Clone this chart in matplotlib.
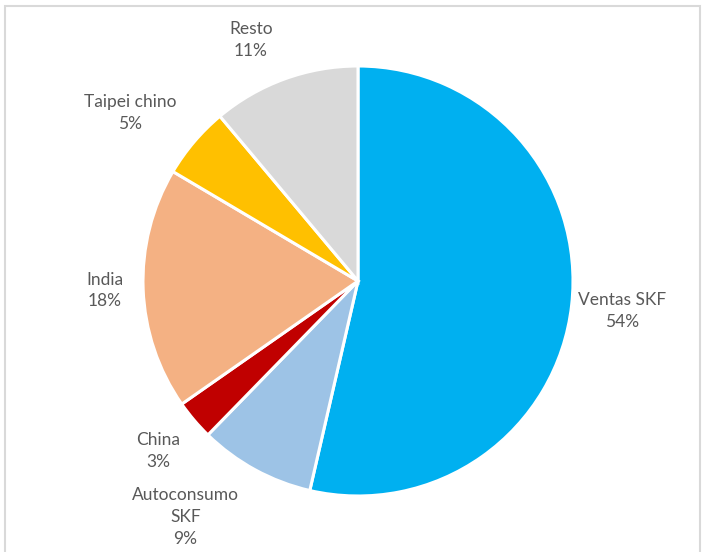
import numpy as np
import matplotlib
matplotlib.use("Agg")
import matplotlib.pyplot as plt
from matplotlib.patches import Rectangle

labels = ["Ventas SKF", "Autoconsumo\nSKF", "China", "India", "Taipei chino", "Resto"]
values = [53.6, 8.7, 3.0, 18.2, 5.4, 11.1]
colors = ["#00B0F0", "#9DC3E6", "#C00000", "#F4B183", "#FFC000", "#D9D9D9"]

# per-label distance from centre (fraction of radius), like Excel's best fit
label_dist = [1.237, 1.36, 1.22, 1.177, 1.316, 1.225]
label_rot = [0, -7.6, 0, 0, 4, 4]  # small angular nudges (deg)

plt.rcParams['font.family'] = ['Lato', 'DejaVu Sans']

W, H = 702, 552
fig = plt.figure(figsize=(W / 100, H / 100), dpi=100)
ax = fig.add_axes([0, 0, 1, 1])

cx, cy, r = 358, H - 281, 215
wedges, _ = ax.pie(values, colors=colors, startangle=90, counterclock=False,
                   center=(cx, cy), radius=r, frame=True,
                   wedgeprops=dict(edgecolor='white', linewidth=2.2))
ax.set_xlim(0, W)
ax.set_ylim(0, H)
ax.set_aspect('equal')
ax.axis('off')

total = sum(values)
for w, lab, v, d, dr in zip(wedges, labels, values, label_dist, label_rot):
    ang = np.deg2rad((w.theta1 + w.theta2) / 2 + dr)
    x = cx + d * r * np.cos(ang)
    y = cy + d * r * np.sin(ang)
    ax.text(x, y, f"{lab}\n{round(100 * v / total)}%", ha='center', va='center',
            fontsize=12.5, color='#595959', linespacing=1.45)

fig.patches.append(Rectangle((5, -10), 695, H - 6 + 10, transform=None,
                             fill=False, edgecolor='#D9D9D9', linewidth=1.5))

fig.savefig("out.png", dpi=100, facecolor='white')
